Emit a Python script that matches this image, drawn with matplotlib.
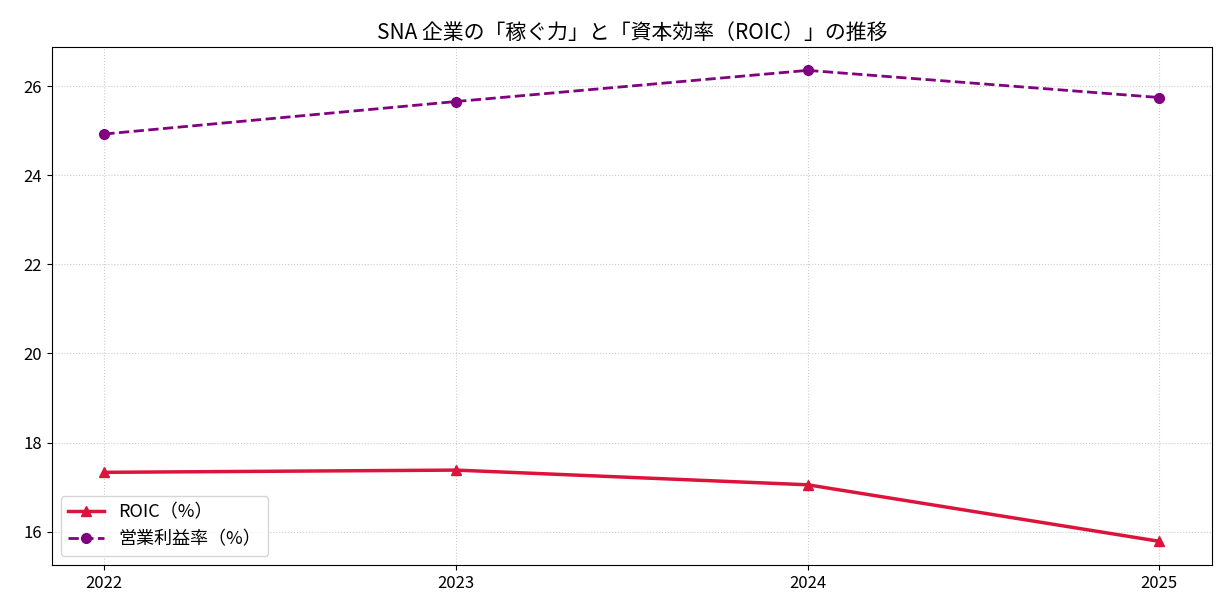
import matplotlib
matplotlib.use("Agg")
import matplotlib.pyplot as plt

plt.rcParams['font.family'] = ['Noto Sans CJK JP', 'DejaVu Sans']

years = [2022, 2023, 2024, 2025]
roic = [17.33, 17.38, 17.05, 15.78]
op_margin = [24.93, 25.66, 26.36, 25.75]

fig, ax = plt.subplots(figsize=(12.28, 6.16), dpi=100)
ax.plot(years, roic, color='crimson', marker='^', markersize=7, linewidth=2.5, label='ROIC（%）')
ax.plot(years, op_margin, color='purple', marker='o', markersize=7, linewidth=2, linestyle='--', label='営業利益率（%）')

ax.set_title('SNA 企業の「稼ぐ力」と「資本効率（ROIC）」の推移', fontsize=15)
ax.set_xticks(years)
ax.tick_params(labelsize=12)
ax.grid(True, linestyle=':', color='#cccccc')
ax.legend(loc='lower left', fontsize=13)

fig.subplots_adjust(left=0.042, right=0.987, top=0.924, bottom=0.083)
fig.savefig('out.png')
